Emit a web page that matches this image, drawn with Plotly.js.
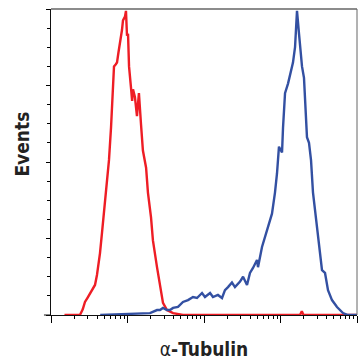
<!DOCTYPE html>
<html>
<head>
<meta charset="utf-8">
<script src="https://cdn.plot.ly/plotly-3.0.1.min.js"></script>
<style>html,body{margin:0;padding:0;background:#fff}#chart{width:360px;height:360px}</style>
</head>
<body>
<div id="chart"></div>
<script>
// Isotype control (red)
const redX = [1.5, 2.0, 2.39, 2.6, 2.78, 3.0, 3.24, 3.5, 3.76, 3.99, 4.2, 4.37, 4.64, 5.08, 5.4, 5.73, 6.09, 6.46, 6.66, 7.0, 7.29, 7.6, 7.98, 8.47, 8.73, 9.27, 9.55, 9.85, 10.16, 10.47, 11.1, 11.5, 11.8, 12.5, 13.3, 14.1, 15.0, 15.9, 17.5, 18.5, 20.3, 21.5, 24.3, 26.6, 29.1, 32.8, 39.4, 53.1, 200, 800, 1800, 1900, 2000, 4000, 10000];
const redY = [0, 0, 0, 3, 6.8, 9, 11.5, 13.5, 15.7, 20.9, 27, 32.4, 42.9, 58.6, 70.6, 81.1, 98, 116, 130, 131, 132, 137, 142, 149, 154, 156, 159, 146, 147, 130, 119, 112, 118, 114, 104, 116, 100, 86, 77, 64, 51, 39, 25, 14.6, 6.3, 2.6, 1, 0, 0, 0, 0, 2, 0, 0, 0];
// α-Tubulin stained (blue)
const blueX = [4.4, 11.8, 19.7, 24.3, 26.6, 29.1, 32.8, 35.9, 39.4, 45.7, 48.6, 53.1, 61.8, 71.8, 81.0, 94.2, 103, 120, 131, 152, 172, 188, 206, 232, 254, 296, 324, 365, 399, 437, 493, 508, 573, 627, 687, 774, 847, 900, 955, 1047, 1079, 1146, 1254, 1413, 1456, 1549, 1595, 1643, 1746, 1854, 1910, 2028, 2154, 2218, 2358, 2506, 2660, 3000, 3188, 3487, 3819, 4178, 4710, 5478, 6560, 7628, 10000];
const blueY = [0, 0.5, 1, 2.6, 2.6, 3.7, 2.6, 2.6, 3.7, 4.2, 5.2, 6.8, 7.8, 9.4, 8.9, 11.5, 9.4, 11.5, 9.4, 10.5, 8.9, 13, 14.6, 17, 14.6, 17.5, 20, 15.7, 22, 24.6, 28.8, 25, 35.6, 40.8, 46, 53, 64, 74, 88, 85, 98, 116, 121, 130, 132, 140, 154, 159, 147, 133, 130, 124, 106, 93, 90, 81, 64, 46, 34, 23.5, 22, 13, 7.8, 4.2, 1, 0, 0];
const xMinorTicks = [2,3,4,5,6,7,8,9,20,30,40,50,60,70,80,90,200,300,400,500,600,700,800,900,2000,3000,4000,5000,6000,7000,8000,9000];
const xTitle = "α<b>-Tubulin</b>";
const yTitle = "<b>Events</b>";

const font = "'Liberation Sans Narrow', 'DejaVu Sans Condensed', 'Arial Narrow', sans-serif";

const traces = [
  {x: redX, y: redY, type: 'scatter', mode: 'lines', line: {color: '#ee1d25', width: 2.4}, hoverinfo: 'skip'},
  {x: blueX, y: blueY, type: 'scatter', mode: 'lines', line: {color: '#3350a2', width: 2.4}, hoverinfo: 'skip'}
];

const layout = {
  width: 360, height: 360,
  margin: {l: 51, r: 3, t: 9, b: 45},
  showlegend: false,
  paper_bgcolor: '#fff', plot_bgcolor: '#fff',
  xaxis: {
    type: 'log', range: [0, 4], dtick: 1,
    showgrid: false, zeroline: false, showticklabels: false,
    ticks: 'outside', ticklen: 7, tickcolor: '#000', tickwidth: 1,
    showline: true, linecolor: '#111', linewidth: 1,
    minor: {tickvals: xMinorTicks, ticks: 'outside', ticklen: 3, tickcolor: '#000', showgrid: false},
    title: {text: xTitle, font: {family: font, size: 19, color: '#222'}, standoff: 22}
  },
  yaxis: {
    range: [0, 160], dtick: 40,
    showgrid: false, zeroline: false, showticklabels: false,
    ticks: 'outside', ticklen: 4, tickcolor: '#000', tickwidth: 1,
    showline: true, linecolor: '#111', linewidth: 1,
    minor: {dtick: 10, ticks: 'outside', ticklen: 3, tickcolor: '#000', showgrid: false}
  },
  annotations: [
    {text: yTitle, xref: 'paper', yref: 'paper', x: -0.095, y: 0.56, xanchor: 'center', yanchor: 'middle', textangle: -90, showarrow: false,
     font: {family: font, size: 19, color: '#222'}}
  ],
  shapes: [
    {type: 'line', xref: 'paper', yref: 'paper', x0: 0, x1: 1, y0: 1, y1: 1, line: {color: '#666', width: 1.5}},
    {type: 'line', xref: 'paper', yref: 'paper', x0: 1, x1: 1, y0: 0, y1: 1, line: {color: '#666', width: 1}},
    {type: 'line', xref: 'paper', yref: 'paper', x0: -0.023, x1: 0, y0: 0, y1: 0, line: {color: '#111', width: 1}}
  ]
};

Plotly.newPlot('chart', traces, layout, {staticPlot: true, displayModeBar: false});
</script>
</body>
</html>
